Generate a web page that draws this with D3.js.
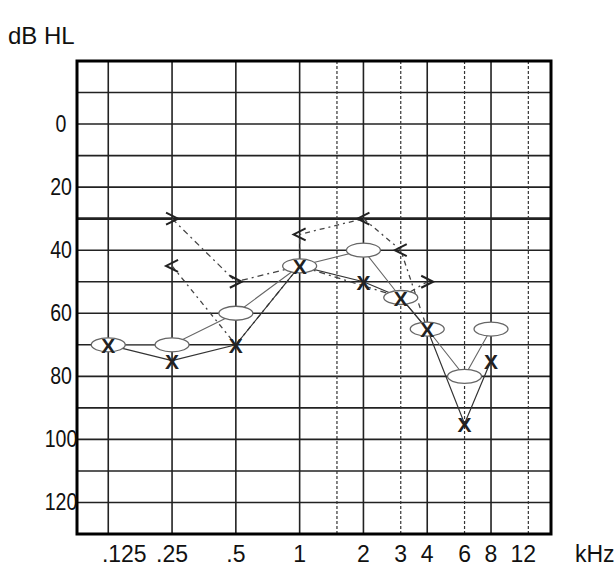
<!DOCTYPE html>
<html lang="en">
  <head>
    <meta charset="UTF-8" />
    <script src="https://d3js.org/d3.v7.min.js"></script>
    <title>Audiogram</title>
    <style>
      body { margin: 0; background: #fff; }
      text { font-family: "Liberation Sans", Arial, sans-serif; fill: #111; }
    </style>
  </head>
  <body>
    <div id="my_dataviz"></div>

    <script>
      // frequencies (kHz) and thresholds (dB HL)
      var freqs     = [0.125, 0.25, 0.5, 1, 2, 3, 4, 6, 8];
      var rightAir  = [70, 70, 60, 45, 40, 55, 65, 80, 65];   // O
      var leftAir   = [70, 75, 70, 45, 50, 55, 65, 95, 75];   // X

      // bone conduction ">" and "<" (some points hidden under other marks)
      var boneGtFreqs = [0.25, 0.5, 1, 3, 4];
      var boneGtDb    = [30, 50, 45, 55, 50];
      var boneGtShown = [1, 1, 0, 0, 1];
      var boneLtFreqs = [0.25, 0.5, 1, 1, 2, 3, 4];
      var boneLtDb    = [45, 70, 45, 35, 30, 40, 65];
      var boneLtShown = [1, 0, 0, 1, 1, 1, 0];

      // ticks
      var xTicks      = [0.125, 0.25, 0.5, 1, 2, 3, 4, 6, 8, 12];
      var xTickLabels = [".125", ".25", ".5", "1", "2", "3", "4", "6", "8", "12"];
      var solidFreqs  = [0.125, 0.25, 0.5, 1, 2, 4, 8];
      var dashFreqs   = [1.5, 3, 6, 12];
      var yTicks      = [0, 20, 40, 60, 80, 100, 120];
      var yGrid       = [-10, 0, 10, 20, 30, 40, 50, 60, 70, 80, 90, 100, 110, 120];

      var width = 614, height = 574;

      var svg = d3.select("#my_dataviz")
        .append("svg")
          .attr("width", width)
          .attr("height", height);

      var x = d3.scaleLog().base(2)
        .domain([0.089, 15.35])
        .range([77, 551]);

      var y = d3.scaleLinear()
        .domain([-20, 130])
        .range([61, 534]);

      // grid: horizontal
      svg.selectAll("hgrid")
        .data(yGrid)
        .enter()
        .append("line")
          .attr("x1", x.range()[0]).attr("x2", x.range()[1])
          .attr("y1", function(d){ return y(d) }).attr("y2", function(d){ return y(d) })
          .attr("stroke", "#222")
          .attr("stroke-width", function(d){ return d == 30 ? 2.8 : 1.6 });

      // grid: vertical solid and dashed
      svg.selectAll("vgrid")
        .data(solidFreqs)
        .enter()
        .append("line")
          .attr("x1", function(d){ return x(d) }).attr("x2", function(d){ return x(d) })
          .attr("y1", y.range()[0]).attr("y2", y.range()[1])
          .attr("stroke", "#222")
          .attr("stroke-width", 1.6);

      svg.selectAll("vdash")
        .data(dashFreqs)
        .enter()
        .append("line")
          .attr("x1", function(d){ return x(d) }).attr("x2", function(d){ return x(d) })
          .attr("y1", y.range()[0]).attr("y2", y.range()[1])
          .attr("stroke", "#333")
          .attr("stroke-width", 1.2)
          .attr("stroke-dasharray", "3,2");

      // frame
      svg.append("rect")
        .attr("x", x.range()[0]).attr("y", y.range()[0])
        .attr("width", x.range()[1] - x.range()[0])
        .attr("height", y.range()[1] - y.range()[0])
        .attr("fill", "none")
        .attr("stroke", "#000")
        .attr("stroke-width", 3);

      // axis labels (y labels a bit narrow, like the scan)
      svg.selectAll("ylab")
        .data(yTicks)
        .enter()
        .append("text")
          .attr("transform", function(d){ return "translate(61," + (y(d) + 8) + ") scale(0.85,1)" })
          .attr("text-anchor", "middle")
          .style("font-size", "23px")
          .text(function(d){ return d });

      svg.selectAll("xlab")
        .data(xTicks)
        .enter()
        .append("text")
          .attr("x", function(d, i){ return x(d) + (i == 0 ? 16 : (d == 12 ? -5 : 0)) })
          .attr("y", 562)
          .attr("text-anchor", "middle")
          .style("font-size", "23px")
          .text(function(d, i){ return xTickLabels[i] });

      svg.append("text")
        .attr("x", 575).attr("y", 562)
        .style("font-size", "23px")
        .text("kHz");

      svg.append("text")
        .attr("x", 8).attr("y", 44)
        .style("font-size", "24px")
        .text("dB HL");

      // lines
      var line = d3.line()
        .x(function(d){ return x(d[0]) })
        .y(function(d){ return y(d[1]) });

      var gtPts = boneGtFreqs.map(function(f, i){ return [f, boneGtDb[i]] });
      var ltPts = boneLtFreqs.map(function(f, i){ return [f, boneLtDb[i]] });
      var rPts  = freqs.map(function(f, i){ return [f, rightAir[i]] });
      var lPts  = freqs.map(function(f, i){ return [f, leftAir[i]] });

      svg.append("path")
        .attr("d", line(gtPts))
        .attr("fill", "none")
        .attr("stroke", "#444")
        .attr("stroke-width", 1.3)
        .attr("stroke-dasharray", "6,4,2,4");

      svg.append("path")
        .attr("d", line(ltPts))
        .attr("fill", "none")
        .attr("stroke", "#444")
        .attr("stroke-width", 1.3)
        .attr("stroke-dasharray", "5,4,2,4");

      svg.append("path")
        .attr("d", line(rPts))
        .attr("fill", "none")
        .attr("stroke", "#666")
        .attr("stroke-width", 1.1);

      svg.append("path")
        .attr("d", line(lPts))
        .attr("fill", "none")
        .attr("stroke", "#333")
        .attr("stroke-width", 1.2);

      // O markers
      svg.selectAll("circ")
        .data(rPts)
        .enter()
        .append("ellipse")
          .attr("cx", function(d){ return x(d[0]) })
          .attr("cy", function(d){ return y(d[1]) })
          .attr("rx", 17).attr("ry", 7)
          .attr("fill", "#fff")
          .attr("stroke", "#666")
          .attr("stroke-width", 1.3);

      // X markers
      svg.selectAll("xs")
        .data(lPts)
        .enter()
        .append("text")
          .attr("x", function(d){ return x(d[0]) })
          .attr("y", function(d){ return y(d[1]) + 8 })
          .attr("text-anchor", "middle")
          .style("font-size", "21px")
          .style("font-weight", "bold")
          .style("fill", "#222")
          .text("X");

      // bone markers
      svg.selectAll("gt")
        .data(gtPts.filter(function(d, i){ return boneGtShown[i] }))
        .enter()
        .append("path")
          .attr("transform", function(d){ return "translate(" + x(d[0]) + "," + y(d[1]) + ")" })
          .attr("d", "M-6,-6L6,0L-6,6")
          .attr("fill", "none")
          .attr("stroke", "#222")
          .attr("stroke-width", 2);

      svg.selectAll("lt")
        .data(ltPts.filter(function(d, i){ return boneLtShown[i] }))
        .enter()
        .append("path")
          .attr("transform", function(d){ return "translate(" + x(d[0]) + "," + y(d[1]) + ")" })
          .attr("d", "M6,-6L-6,0L6,6")
          .attr("fill", "none")
          .attr("stroke", "#222")
          .attr("stroke-width", 2);
    </script>
  </body>
</html>
